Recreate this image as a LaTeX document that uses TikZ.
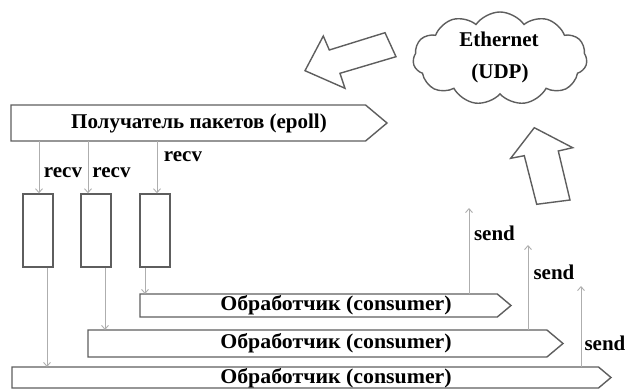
\documentclass[tikz,border=0pt]{standalone}
\usepackage{fontspec}
\setmainfont{Liberation Serif}
\usetikzlibrary{shapes.symbols,arrows.meta,calc}
\definecolor{edge}{HTML}{5E5E5E}
\definecolor{conn}{HTML}{AEAEAE}
\begin{document}
\begin{tikzpicture}[x=1pt,y=-1pt,
  bar/.style={draw=edge,line width=1.4pt,fill=white,shape=signal,signal to=east,signal from=nowhere,
    signal pointer angle=80,inner sep=0pt,outer sep=0pt,anchor=west},
  queue/.style={draw=edge,line width=1.4pt,fill=white,rectangle,inner sep=0pt,minimum width=30pt,minimum height=73pt},
  txt/.style={font=\fontsize{21}{23}\selectfont\bfseries,inner sep=0pt},
  lbl/.style={font=\fontsize{21}{23}\selectfont\bfseries,inner sep=0pt},
  conn/.style={draw=conn,line width=0.9pt,-{Straight Barb[length=4pt,width=7pt]}},
  blockarrow/.style={draw=edge,line width=1.4pt,fill=white,line join=miter}]
\useasboundingbox (0,0) rectangle (625,390);

% cloud
\node[draw=edge,line width=1.4pt,cloud,cloud puffs=11,cloud puff arc=110,aspect=1.9,
  minimum width=174pt,minimum height=93pt,inner sep=0pt] (eth) at (500,58.5) {};
\node[txt] (ethA) at (499,39) {Ethernet};
\node[txt] (ethB) at (500,73) {(UDP)};

% block arrows
\draw[blockarrow] (305,70.7) -- (323.3,36) -- (329.3,50) -- (385,32.7) -- (396,56.7) -- (340,73.3) -- (345,88.3) -- cycle;
\draw[blockarrow] (534.3,127.7) -- (572.7,147.7) -- (558.3,151) -- (570,200) -- (536.7,204.3) -- (524.3,155.7) -- (510.7,158.3) -- cycle;

% receiver
\node[bar,minimum width=376pt,minimum height=36pt] (recv) at (11,123) {};
\node[txt] (recvT) at (199,123) {Получатель пакетов (epoll)};

% queues
\node[queue] (q1) at (38,230.5) {};
\node[queue] (q2) at (96,230.5) {};
\node[queue] (q3) at (155,230.5) {};

% consumers
\node[bar,minimum width=599pt,minimum height=21pt] (c3) at (12,377.5) {};
\node[bar,minimum width=475pt,minimum height=27pt] (c2) at (88,343.5) {};
\node[bar,minimum width=371pt,minimum height=23pt] (c1) at (140,305.5) {};
\node[txt,xscale=1.04] (c1T) at (336,305.5) {Обработчик (consumer)};
\node[txt,xscale=1.04] (c2T) at (336,343.5) {Обработчик (consumer)};
\node[txt,xscale=1.04] (c3T) at (336,378) {Обработчик (consumer)};

% recv connectors
\coordinate (r1) at (39,194);
\coordinate (r2) at (88,194);
\coordinate (r3) at (157,194);
\draw[conn] (recv.south -| r1) -- (q1.north -| r1);
\draw[conn] (recv.south -| r2) -- (q2.north -| r2);
\draw[conn] (recv.south -| r3) -- (q3.north -| r3);
\node[lbl] (l1) at (63,173) {recv};
\node[lbl] (l2) at (111.5,173) {recv};
\node[lbl] (l3) at (183,157) {recv};

% queue to consumer
\coordinate (d1) at (47,0);
\coordinate (d2) at (105,0);
\coordinate (d3) at (145,0);
\draw[conn] (q1.south -| d1) -- (c3.north -| d1);
\draw[conn] (q2.south -| d2) -- (c2.north -| d2);
\draw[conn] (q3.south -| d3) -- (c1.north -| d3);

% send
\coordinate (s1) at (469,208);
\coordinate (s2) at (528,245);
\coordinate (s3) at (581,286);
\draw[conn] (c1.north -| s1) -- (s1);
\draw[conn] (c2.north -| s2) -- (s2);
\draw[conn] (c3.north -| s3) -- (s3);
\node[lbl] (sl1) at (494.5,233) {send};
\node[lbl] (sl2) at (554,272) {send};
\node[lbl] (sl3) at (605,343) {send};
\end{tikzpicture}
\end{document}
